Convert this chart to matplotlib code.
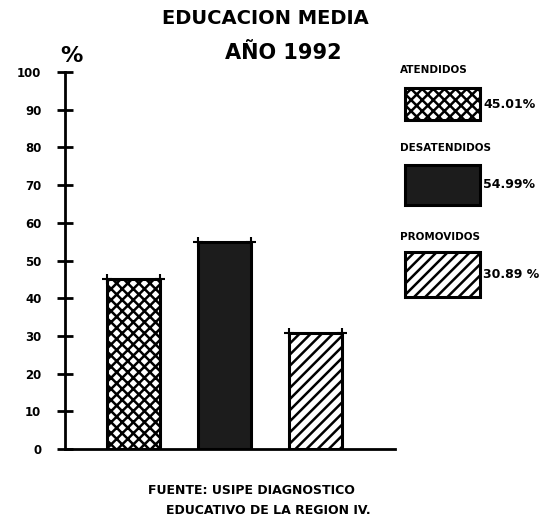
"""
Educacion media 1992: atendidos / desatendidos / promovidos (%).
"""
import matplotlib
matplotlib.use('Agg')
import matplotlib.pyplot as plt
from matplotlib.patches import Rectangle

categorias = ['ATENDIDOS', 'DESATENDIDOS', 'PROMOVIDOS']
valores = [45.01, 54.99, 30.89]
etiquetas_valor = ['45.01%', '54.99%', '30.89 %']
yticks = [0, 10, 20, 30, 40, 50, 60, 70, 80, 90, 100]
ytick_labels = ['0', '10', '20', '30', '40', '50', '60', '70', '80', '90', '100']

hatches = ['xxx', '', '///']
caras = ['white', '#1c1c1c', 'white']

plt.rcParams['font.family'] = ['DejaVu Sans']
plt.rcParams['font.weight'] = 'bold'
plt.rcParams['hatch.linewidth'] = 1.8

W, H = 556, 516
fig = plt.figure(figsize=(W / 100, H / 100), dpi=100)


def fx(px):
    return px / W


def fy(py):
    return 1 - py / H


# eje principal (px: x 65..395, y 0 -> 449, 100 -> 72)
ax = fig.add_axes([fx(65), fy(449), fx(395) - fx(65), fy(72) - fy(449)])
ax.set_ylim(0, 100)
ax.set_xlim(-0.753, -0.753 + 330 / 91)
pos = list(range(len(categorias)))
ax.bar(pos, valores, width=0.59, color=caras, hatch=hatches,
       edgecolor='black', linewidth=2.2)
# cruces en las esquinas superiores
for p, v in zip(pos, valores):
    ax.plot([p - 0.295, p + 0.295], [v, v], 'k+', ms=7, mew=1.5, clip_on=False)

for s in ['top', 'right']:
    ax.spines[s].set_visible(False)
ax.spines['left'].set_linewidth(2)
ax.spines['bottom'].set_linewidth(2)
ax.set_xticks([])
ax.set_yticks(yticks)
ax.set_yticklabels(ytick_labels, fontsize=8.5, fontweight='bold')
ax.tick_params(axis='y', direction='inout', length=12, width=2, pad=11)

fig.text(fx(71), fy(56), '%', fontsize=16, fontweight='bold', ha='center', va='center')
fig.text(fx(265), fy(19), 'EDUCACION MEDIA', fontsize=14, fontweight='bold',
         ha='center', va='center')
fig.text(fx(283), fy(53), 'AÑO 1992', fontsize=15, fontweight='bold',
         ha='center', va='center')

# leyenda dibujada a mano
cajas = [(88, 120, 70), (165, 205, 148), (252, 297, 237)]
for (y0, y1, yt), cat, lab, h, c in zip(cajas, categorias, etiquetas_valor, hatches, caras):
    fig.text(fx(400), fy(yt), cat, fontsize=7.5, fontweight='bold', ha='left', va='center')
    fig.patches.append(Rectangle((fx(405), fy(y1)), fx(480) - fx(405), fy(y0) - fy(y1),
                                 transform=fig.transFigure, facecolor=c, hatch=h,
                                 edgecolor='black', linewidth=2.2))
    fig.text(fx(483), fy((y0 + y1) / 2), lab, fontsize=9, fontweight='bold',
             ha='left', va='center')

fig.text(fx(148), fy(490), 'FUENTE: USIPE DIAGNOSTICO', fontsize=9, fontweight='bold',
         ha='left', va='center')
fig.text(fx(166), fy(510), 'EDUCATIVO DE LA REGION IV.', fontsize=9, fontweight='bold',
         ha='left', va='center')

fig.savefig('out.png', dpi=100, facecolor='white')
